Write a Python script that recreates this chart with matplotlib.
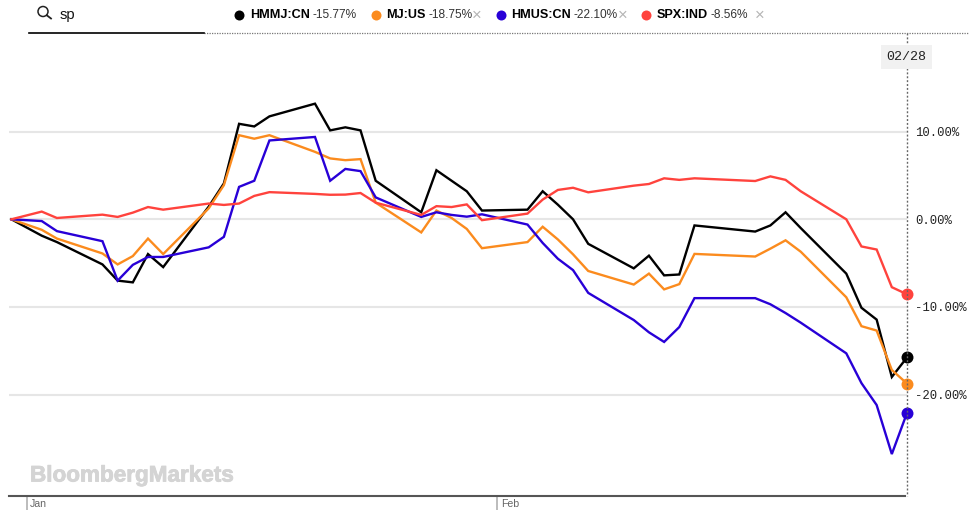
import matplotlib
matplotlib.use("Agg")
import matplotlib.pyplot as plt
import matplotlib.dates as mdates
import matplotlib.patheffects as pe
import pandas as pd
from matplotlib.patches import Circle

# trading days shown on the chart
dates = pd.to_datetime([
    "2019-12-31", "2020-01-02", "2020-01-03",
    "2020-01-06", "2020-01-07", "2020-01-08", "2020-01-09", "2020-01-10",
    "2020-01-13", "2020-01-14", "2020-01-15", "2020-01-16", "2020-01-17",
    "2020-01-20", "2020-01-21", "2020-01-22", "2020-01-23", "2020-01-24",
    "2020-01-27", "2020-01-28", "2020-01-29", "2020-01-30", "2020-01-31",
    "2020-02-03", "2020-02-04", "2020-02-05", "2020-02-06", "2020-02-07",
    "2020-02-10", "2020-02-11", "2020-02-12", "2020-02-13", "2020-02-14",
    "2020-02-18", "2020-02-19", "2020-02-20", "2020-02-21",
    "2020-02-24", "2020-02-25", "2020-02-26", "2020-02-27", "2020-02-28",
])

hmmj = [0, -1.87, -2.6, -5.15, -7.0, -7.2, -3.97, -5.46, 1.45, 4.1, 10.9, 10.6, 11.75,
        13.2, 10.15, 10.5, 10.15, 4.4, 0.8, 5.6, 4.4, 3.2, 1.0, 1.1, 3.2, 1.67, 0.0, -2.8,
        -5.6, -4.15, -6.4, -6.3, -0.7, -1.4, -0.7, 0.8, -1.0, -6.2, -10.1, -11.45, -18.0, -15.77]
mj = [0, -1.2, -2.2, -3.9, -5.15, -4.2, -2.2, -3.97, 1.25, 3.9, 9.6, 9.2, 9.6,
      7.7, 6.95, 6.75, 6.87, 1.9, -1.5, 1.0, 0.15, -1.1, -3.3, -2.6, -0.85, -2.3, -4.0, -5.9,
      -7.45, -6.2, -8.0, -7.4, -3.95, -4.25, -3.35, -2.4, -3.7, -8.9, -12.2, -12.7, -17.2, -18.75]
hmus = [0, -0.2, -1.35, -2.5, -7.0, -5.2, -4.3, -4.3, -3.2, -2.0, 3.7, 4.4, 9.0,
        9.4, 4.4, 5.75, 5.5, 2.5, 0.27, 0.8, 0.5, 0.3, 0.57, -0.6, -2.7, -4.5, -5.8, -8.4,
        -11.5, -12.9, -14.0, -12.3, -9.0, -9.0, -9.7, -10.7, -11.8, -15.3, -18.7, -21.2, -26.8, -22.10]
spx = [0, 0.88, 0.15, 0.53, 0.27, 0.76, 1.4, 1.1, 1.8, 1.64, 1.8, 2.67, 3.1,
       2.9, 2.8, 2.82, 3.0, 1.9, 0.5, 1.5, 1.4, 1.7, -0.1, 0.65, 2.25, 3.35, 3.6, 3.08,
       3.84, 4.03, 4.68, 4.5, 4.68, 4.37, 4.9, 4.5, 3.2, 0.0, -3.1, -3.45, -7.75, -8.56]

series = [hmmj, mj, hmus, spx]
colors = ["#000000", "#FB8B1E", "#2800D7", "#FF433D"]
y_ticks = [10, 0, -10, -20]
y_labels = ["10.00%", "0.00%", "-10.00%", "-20.00%"]

W, H = 970, 519
plt.rcParams["font.family"] = ["Liberation Sans", "DejaVu Sans"]
fig = plt.figure(figsize=(W / 100, H / 100), dpi=100)

# overlay in pixel coordinates for the page furniture
page = fig.add_axes([0, 0, 1, 1], zorder=5)
page.set_xlim(0, W)
page.set_ylim(H, 0)
page.axis("off")
page.patch.set_alpha(0)

left, right, top, bottom = 9, 907, 45, 496
ax = fig.add_axes([left / W, 1 - bottom / H, (right - left) / W, (bottom - top) / H])

px_per_day = 15.18
x_last = mdates.date2num(dates[-1])
x_first = x_last - (right - left) / px_per_day
ax.set_xlim(x_first, x_last)
ax.set_ylim((219.3 - bottom) / 8.76, (219.3 - top) / 8.76)

for s in ["top", "left", "right"]:
    ax.spines[s].set_visible(False)
ax.spines["bottom"].set_color("#555555")
ax.spines["bottom"].set_linewidth(1.5)
ax.spines["bottom"].set_bounds(x_first, x_last - 2 / px_per_day)

ax.set_yticks(y_ticks)
ax.set_yticklabels(y_labels, family="Liberation Mono", fontsize=8.8, color="#222222")
ax.yaxis.tick_right()
ax.tick_params(axis="y", length=0, pad=6)
ax.grid(axis="y", color="#e6e6e6", linewidth=1.5)
ax.set_axisbelow(True)

month_ticks = mdates.date2num(pd.to_datetime(["2020-01-01", "2020-02-01"]))
ax.set_xticks(month_ticks)
ax.set_xticklabels([])
ax.tick_params(axis="x", length=10, width=1.2, color="#b0b0b0")
for d, name in zip(month_ticks, ["Jan", "Feb"]):
    ax.annotate(name, xy=(d, 0), xycoords=ax.get_xaxis_transform(), xytext=(2.6, -5.5),
                textcoords="offset points", ha="left", va="center", fontsize=7.6, color="#666666")

for vals, c in zip(series, colors):
    ax.plot(dates, vals, color=c, linewidth=1.7, solid_joinstyle="miter", clip_on=False)
    ax.plot(dates[-1], vals[-1], "o", color=c, markersize=8.6, markeredgewidth=0, clip_on=False)

# vertical cursor line, above the end dots
page.plot([907, 907], [33, 496], color="#666666", linewidth=1.0, linestyle=(0, (1.4, 1.4)))
page.add_patch(plt.Rectangle((881, 45), 51, 24, facecolor="#f1f1f1", edgecolor="none", zorder=3))
page.text(906.5, 57.5, "02/28", family="Liberation Mono", fontsize=9.6, color="#222222",
          ha="center", va="center", zorder=4)

# search box
page.plot([204, 970], [33, 33], color="#777777", linewidth=0.9, linestyle=(0, (1, 1)))
page.plot([29, 204], [32.5, 32.5], color="#000000", linewidth=1.2)
page.add_patch(Circle((43, 11.5), 5, fill=False, edgecolor="#222222", linewidth=1.1))
page.plot([46.8, 51], [15.3, 18.5], color="#222222", linewidth=1.3)
page.text(60, 14.5, "sp", fontsize=10.6, color="#111111", va="center")

# legend row
legend_rows = [
    (239, 250, "HMMJ:CN", 313, "-15.77%", None),
    (376, 386, "MJ:US", 429, "-18.75%", 477),
    (501, 511, "HMUS:CN", 574, "-22.10%", 623),
    (646, 657, "SPX:IND", 711, "-8.56%", 760),
]
for (dot_x, name_x, name, val_x, val, cross_x), c in zip(legend_rows, colors):
    page.plot(dot_x, 15, "o", color=c, markersize=7.2, markeredgewidth=0)
    page.text(name_x, 15, name, fontsize=9.1, fontweight="bold", color="#000000", va="center")
    page.text(val_x, 15, val, fontsize=8.6, color="#333333", va="center")
    if cross_x:
        page.text(cross_x, 15, "\u00d7", fontsize=12, color="#b5b5b5", ha="center", va="center")

page.text(30, 476, "BloombergMarkets", fontsize=16.2, fontweight="bold", color="#d4d4d4",
          va="center", path_effects=[pe.withStroke(linewidth=0.6, foreground="#d4d4d4")])

fig.savefig("out.png", dpi=100)
